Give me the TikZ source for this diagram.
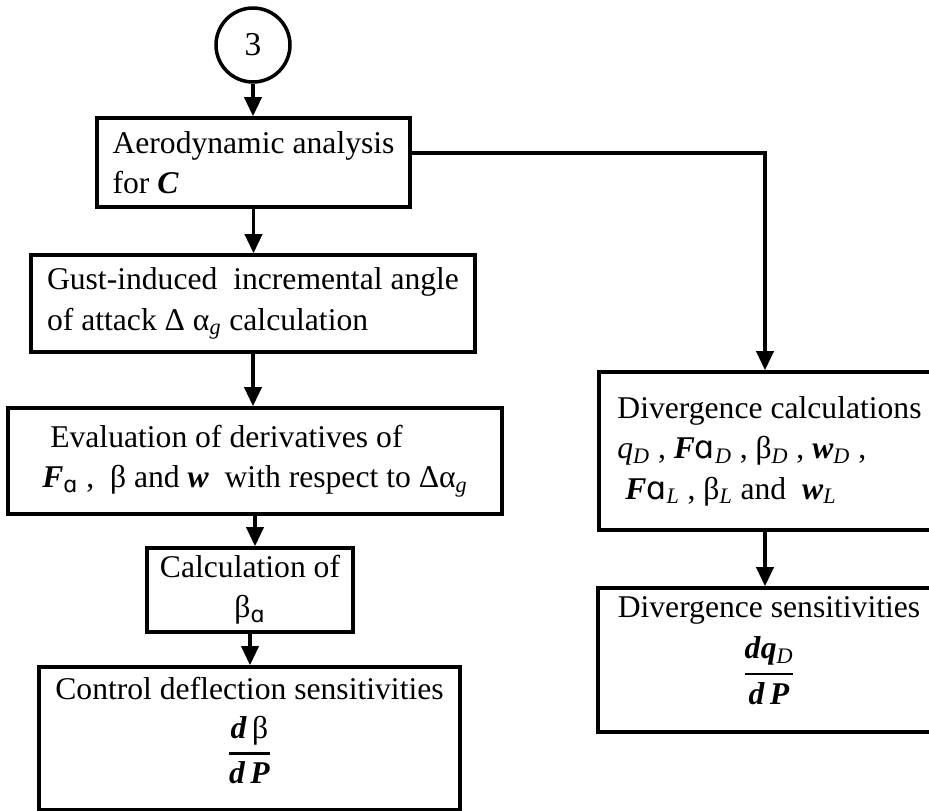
\documentclass[tikz,border=0pt]{standalone}
\usepackage{amsmath}
\usepackage{fontspec}
\setmainfont{Liberation Serif}
\newfontfamily\ipafont{DejaVu Sans}
\usetikzlibrary{arrows.meta,calc}
\newcommand{\bv}[1]{\textbf{\textit{#1}}}
\newcommand{\ia}{{\ipafont ɑ}}
\newcommand{\sub}[1]{\ensuremath{_{\text{#1}}}}
\newcommand{\frc}[2]{\ensuremath{\genfrac{}{}{1.4pt}{0}{\text{#1}}{\text{#2}}}}

\begin{document}
\begin{tikzpicture}[
  box/.style={draw, line width=2pt, align=left, inner sep=2pt,
              font=\fontsize{18}{23}\selectfont},
  boxc/.style={box, align=center},
  conn/.style={circle, draw, line width=2pt, minimum size=14.8mm,
               inner sep=0pt, font=\fontsize{19}{23}\selectfont},
  arr/.style={-{Triangle[length=3.8mm,width=3.4mm]}, line width=2pt},
]
\useasboundingbox (0,0) rectangle (18.58,-16.22);

% left column: gust response chain
\node[conn] (c3) at (5.06,-0.90) {3};
\node[box, minimum width=62.6mm, minimum height=17.8mm] (aero) at (5.07,-3.25)
  {Aerodynamic analysis\\for \bv{C}};
\node[box, minimum width=88.8mm, minimum height=19.4mm] (gust) at (5.06,-6.07)
  {Gust-induced\ \ incremental angle\\of attack Δ α\sub{\textit{g}} calculation};
\node[box, minimum width=98.8mm, minimum height=21.2mm] (deriv) at (5.10,-9.22)
  {\ Evaluation of derivatives of\\\bv{F}\sub{\ia} ,\ \ β and \bv{w}\ \ with respect to Δα\sub{\textit{g}}};
\node[boxc, minimum width=41.2mm, minimum height=16.8mm] (calc) at (5.00,-11.80)
  {Calculation of\\β\sub{\ia}};
\node[boxc, minimum width=84.2mm, minimum height=28.6mm] (ctrl) at (4.99,-14.77)
  {Control deflection sensitivities\\[8pt]\frc{\bv{d}\,β}{\bv{d}\,\bv{P}}\rule[-22pt]{0pt}{1pt}};

% right column: divergence
\node[box, minimum width=68.2mm, minimum height=31.6mm] (div) at (15.39,-9.02)
  {Divergence calculations\\\textit{q}\sub{\textit{D}} , \bv{F}\ia\sub{\textit{D}} , β\sub{\textit{D}} , \bv{w}\sub{\textit{D}} ,\\
   \ \bv{F}\ia\sub{\textit{L}} , β\sub{\textit{L}} and\ \ \bv{w}\sub{\textit{L}}};
\node[boxc, minimum width=68.4mm, minimum height=28.8mm] (divs) at (15.38,-13.20)
  {Divergence sensitivities\\[6pt]\frc{\bv{d}\bv{q}\sub{\textit{D}}}{\bv{d}\,\bv{P}}\rule[-24pt]{0pt}{1pt}};

% connectors
\draw[arr] (c3.south) -- (c3.south |- aero.north);
\draw[arr] (aero.south) -- (aero.south |- gust.north);
\draw[arr] (gust.south) -- (gust.south |- deriv.north);
\draw[arr] (deriv.south) -- (deriv.south |- calc.north);
\draw[arr] (calc.south) -- (calc.south |- ctrl.north);
\draw[arr] ([yshift=1.9mm]aero.east) -| ([xshift=-0.9mm]div.north);
\draw[arr] ([xshift=-0.9mm]div.south) -- ([xshift=-0.9mm]div.south |- divs.north);
\end{tikzpicture}
\end{document}
